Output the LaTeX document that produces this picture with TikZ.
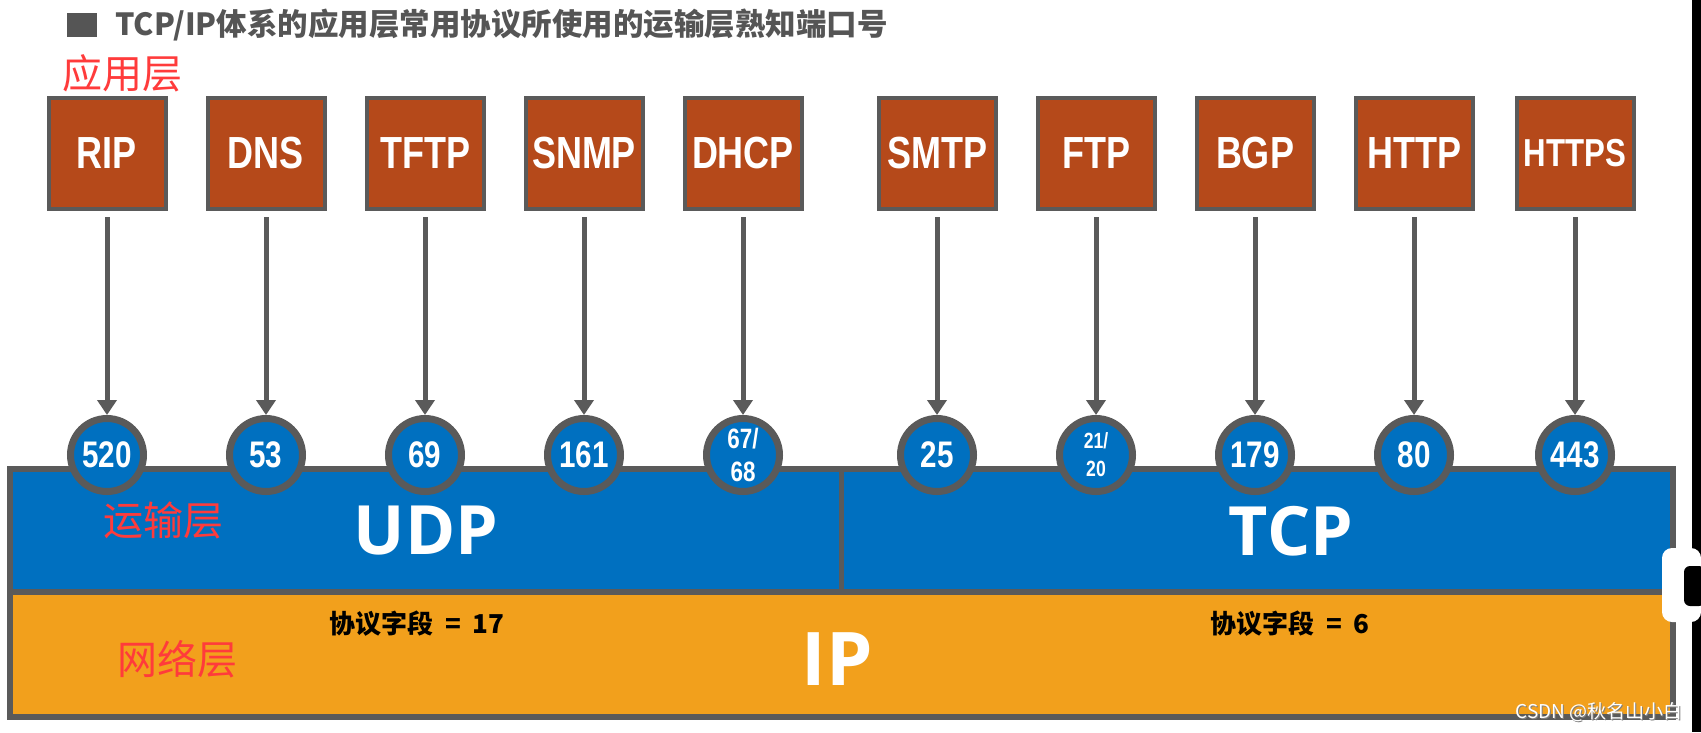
\documentclass[tikz,border=0pt]{standalone}
\usepackage{fontspec}
\usetikzlibrary{arrows.meta}
\newfontfamily\cjk{Noto Sans CJK SC}
\newfontfamily\nar[FakeStretch=0.8]{Liberation Sans}
\newfontfamily\osans{Open Sans}
\definecolor{edge}{HTML}{5A5A5A}
\definecolor{rust}{HTML}{B5491A}
\definecolor{tblue}{HTML}{0070C0}
\definecolor{iporange}{HTML}{F2A01C}
\definecolor{redlbl}{HTML}{FF3B3B}
\definecolor{titlegray}{HTML}{555555}
\tikzset{
  appbox/.style={draw=edge, line width=4pt, fill=rust, minimum width=117pt, minimum height=111pt,
    inner sep=0pt, text=white, font=\nar\bfseries\fontsize{45}{50}\selectfont},
  port/.style={circle, draw=edge, line width=7pt, fill=tblue, minimum size=73pt, inner sep=0pt,
    text=white, align=center, font=\nar\bfseries\fontsize{37}{40}\selectfont},
  link/.style={draw=edge, line width=5pt, -{Triangle[width=19pt,length=15pt]}, shorten <=6pt},
  layerbox/.style={draw=edge, line width=6pt, inner sep=0pt, minimum width=1663.5pt},
  redlabel/.style={text=redlbl, font=\cjk\fontsize{40}{44}\selectfont, inner sep=0pt},
  bigword/.style={text=white, font=\osans\bfseries\fontsize{68}{72}\selectfont, inner sep=0pt},
  field/.style={text=black, font=\cjk\bfseries\fontsize{26}{30}\selectfont, inner sep=0pt}
}
\begin{document}
\begin{tikzpicture}[x=1pt,y=-1pt]
\useasboundingbox[fill=white] (0,0) rectangle (1701,732);
% screen edge
\fill[black] (1692,0) rectangle (1701,732);
% title
\fill[titlegray] (67,13) rectangle (97,37);
\node[anchor=west, inner sep=0pt, text=titlegray, font=\cjk\bfseries\fontsize{30.5}{34}\selectfont] (title) at (115,25) {TCP/IP体系的应用层常用协议所使用的运输层熟知端口号};
\node[redlabel] (applbl) at (122,73) {应用层};
% layers
\node[layerbox, fill=tblue, minimum height=122.5pt] (transport) at (841.25,530.25) {};
\node[layerbox, fill=iporange, minimum height=125pt] (network) at (841.25,654) {};
\draw[edge, line width=5pt] (transport.north) -- (transport.south);
\node[bigword] (udp) at (426,531) {UDP};
\node[bigword] (tcp) at (1291,531) {TCP};
\node[bigword, font=\osans\bfseries\fontsize{74}{78}\selectfont] (ip) at (837,659) {IP};
\node[redlabel] (translbl) at (163,520) {运输层};
\node[redlabel] (netlbl) at (177,659) {网络层};
\node[field] (f17) at (417,624) {协议字段\hspace{12pt}=\hspace{11pt}17};
\node[field] (f6) at (1290,624) {协议字段\hspace{12pt}=\hspace{11pt}6};
% application protocols
\foreach \n/\x/\t in {rip/107/RIP, dns/266/DNS, tftp/425/TFTP, snmp/584/SNMP, dhcp/743/DHCP,
                      smtp/937/SMTP, ftp/1096/FTP, bgp/1255/BGP, http/1414/HTTP}
  \node[appbox] (\n) at (\x,153.5) {\t};
\node[appbox, font=\nar\bfseries\fontsize{39}{44}\selectfont] (https) at (1575,153.5) {HTTPS};
% ports
\foreach \n/\x/\t in {rip/107/520, dns/266/53, tftp/425/69, snmp/584/161,
                      smtp/937/25, bgp/1255/179, http/1414/80, https/1575/443}
  \node[port] (p\n) at (\x,455) {\t};
\node[port, font=\nar\bfseries\fontsize{28}{33}\selectfont] (pdhcp) at (743,455) {67/\\68};
\node[port, font=\nar\bfseries\fontsize{22}{28}\selectfont] (pftp) at (1096,455) {21/\\20};
% connectors
\foreach \n in {rip,dns,tftp,snmp,dhcp,smtp,ftp,bgp,http,https}
  \draw[link] (\n.south) -- (p\n.north);
% watermark
\node[text=gray, font=\cjk\fontsize{19}{22}\selectfont, inner sep=0pt] (wmshadow) at (1600,713) {CSDN @秋名山小白};
\node[text=white, font=\cjk\fontsize{19}{22}\selectfont, inner sep=0pt] (wm) at (1599,712) {CSDN @秋名山小白};
% screen overlay button
\fill[white, rounded corners=10pt] (1662,548) rectangle (1701,622);
\fill[black, rounded corners=6pt] (1684,566) rectangle (1705,606);
\end{tikzpicture}
\end{document}
